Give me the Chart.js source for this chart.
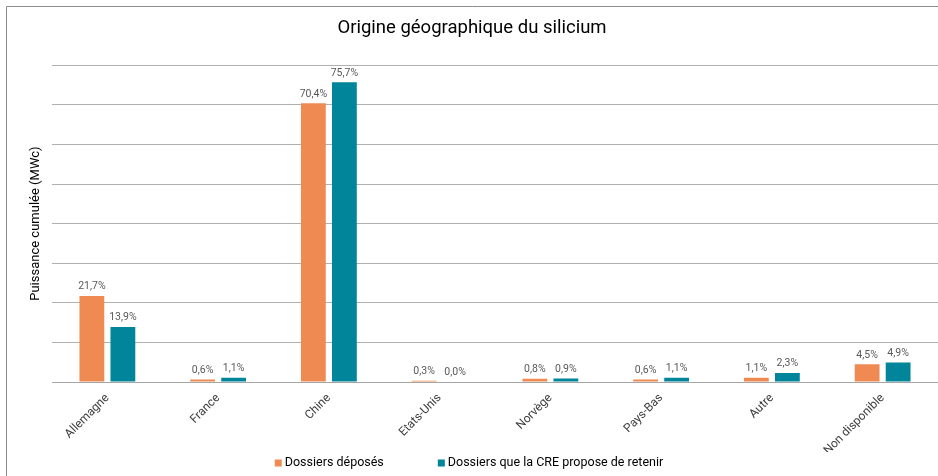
<!DOCTYPE html>
<html>
<head>
<meta charset="utf-8">
<script src="https://cdn.jsdelivr.net/npm/chart.js@4.4.1/dist/chart.umd.min.js"></script>
<style>
  body { margin: 0; background: #fff; }
  #wrap { width: 938px; height: 476px; }
</style>
</head>
<body>
<div id="wrap"><canvas id="chartCanvas" width="938" height="476"></canvas></div>
<script>
var categories = ['Allemagne', 'France', 'Chine', 'Etats-Unis', 'Norvège', 'Pays-Bas', 'Autre', 'Non disponible'];
var deposes = [21.7, 0.6, 70.4, 0.3, 0.8, 0.6, 1.1, 4.5];
var retenus = [13.9, 1.1, 75.7, 0.0, 0.9, 1.1, 2.3, 4.9];
var seriesNames = ['Dossiers déposés', 'Dossiers que la CRE propose de retenir'];
var seriesColors = ['#EE8A52', '#00859A'];

var fontFamily = 'Roboto, "Liberation Sans", sans-serif';

// cadre gris autour du graphique
var framePlugin = {
  id: 'frame',
  beforeDraw: function (chart) {
    var ctx = chart.ctx;
    ctx.save();
    ctx.strokeStyle = '#8c8c8c';
    ctx.lineWidth = 1;
    ctx.beginPath();
    ctx.moveTo(6.5, chart.height);
    ctx.lineTo(6.5, 6.5);
    ctx.lineTo(chart.width, 6.5);
    ctx.stroke();
    ctx.restore();
  }
};

// étiquettes de valeur au-dessus des barres
var valueLabels = {
  id: 'valueLabels',
  afterDatasetsDraw: function (chart) {
    var ctx = chart.ctx;
    ctx.save();
    ctx.font = '10.5px ' + fontFamily;
    ctx.fillStyle = '#595959';
    ctx.textAlign = 'center';
    ctx.textBaseline = 'bottom';
    chart.data.datasets.forEach(function (ds, i) {
      chart.getDatasetMeta(i).data.forEach(function (bar, j) {
        var txt = ds.data[j].toFixed(1).replace('.', ',') + '%';
        ctx.fillText(txt, bar.x, bar.y - 4);
      });
    });
    ctx.restore();
  }
};

// légende en bas, avec l'écart large entre les deux entrées
var bottomLegend = {
  id: 'bottomLegend',
  afterDraw: function (chart) {
    var ctx = chart.ctx;
    var box = 7, gapText = 3, gapItem = 54;
    ctx.save();
    ctx.font = '12.5px ' + fontFamily;
    ctx.textBaseline = 'middle';
    ctx.textAlign = 'left';
    var widths = chart.data.datasets.map(function (ds) { return ctx.measureText(ds.label).width; });
    var total = 0;
    widths.forEach(function (w, i) { total += box + gapText + w + (i > 0 ? gapItem : 0); });
    var x = chart.width / 2 - total / 2;
    var y = chart.height - 13;
    chart.data.datasets.forEach(function (ds, i) {
      ctx.fillStyle = ds.backgroundColor;
      ctx.fillRect(x, y - box / 2, box, box);
      ctx.fillStyle = '#000';
      ctx.fillText(ds.label, x + box + gapText, y);
      x += box + gapText + widths[i] + gapItem;
    });
    ctx.restore();
  }
};

new Chart(document.getElementById('chartCanvas').getContext('2d'), {
  type: 'bar',
  data: {
    labels: categories,
    datasets: [{
      label: seriesNames[0],
      data: deposes,
      backgroundColor: seriesColors[0],
      categoryPercentage: 0.56,
      barPercentage: 0.8
    }, {
      label: seriesNames[1],
      data: retenus,
      backgroundColor: seriesColors[1],
      categoryPercentage: 0.56,
      barPercentage: 0.8
    }]
  },
  options: {
    responsive: false,
    animation: false,
    layout: { padding: { left: 6, right: 0, top: 0, bottom: 24 } },
    plugins: {
      title: {
        display: true,
        text: 'Origine géographique du silicium',
        color: '#000',
        font: { family: fontFamily, size: 18.5, weight: 'normal' },
        padding: { top: 17, bottom: 26 }
      },
      legend: { display: false },
      tooltip: { enabled: false }
    },
    scales: {
      x: {
        grid: { display: false, drawTicks: false },
        border: { display: true, color: '#a6a6a6', width: 1 },
        ticks: {
          color: '#404040',
          font: { family: fontFamily, size: 12 },
          minRotation: 45,
          maxRotation: 45,
          padding: 9
        },
        afterFit: function (scale) { scale.height = 70; }
      },
      y: {
        min: 0,
        max: 80,
        ticks: { stepSize: 10, display: false },
        grid: { color: '#b0b0b0', drawTicks: false },
        border: { display: false },
        title: {
          display: true,
          text: 'Puissance cumulée (MWc)',
          color: '#000',
          font: { family: fontFamily, size: 13 },
          padding: { top: 22, bottom: 0 }
        },
        afterFit: function (scale) { scale.width = 46; }
      }
    }
  },
  plugins: [framePlugin, valueLabels, bottomLegend]
});
</script>
</body>
</html>
